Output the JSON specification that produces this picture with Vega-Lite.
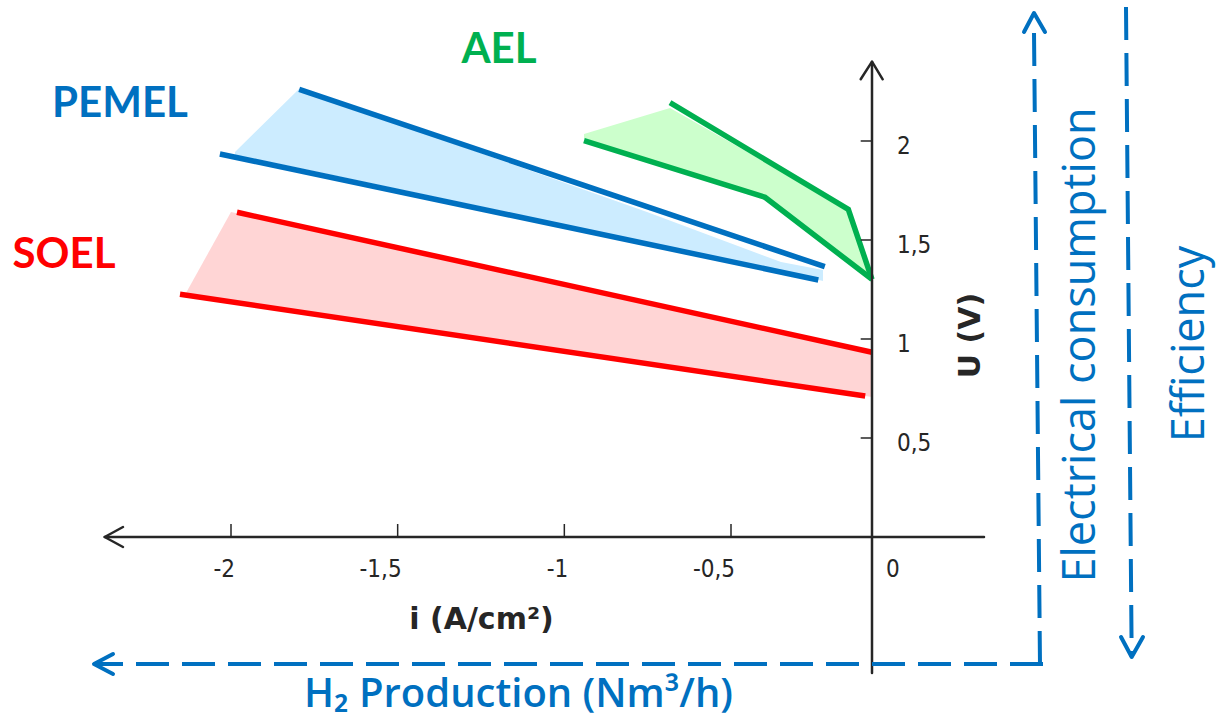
{
  "$schema": "https://vega.github.io/schema/vega-lite/v6.json",
  "width": 1217,
  "height": 719,
  "padding": 0,
  "autosize": {"type": "none"},
  "background": "white",
  "config": {"view": {"stroke": null}},
  "datasets": {
    "fills": [
      {"s": "PEMEL", "x": -1.988, "y": 1.9444, "y2": 1.9293},
      {"s": "PEMEL", "x": -1.796, "y": 2.2626, "y2": 1.8636},
      {"s": "PEMEL", "x": -0.752, "y": 1.6414, "y2": 1.4899},
      {"s": "PEMEL", "x": -0.3227, "y": 1.3889, "y2": 1.3434},
      {"s": "PEMEL", "x": -0.1738, "y": 1.3485, "y2": 1.2929},
      {"s": "AEL", "x": -0.941, "y": 2.0354, "y2": 2.0101},
      {"s": "AEL", "x": -0.683, "y": 2.1667, "y2": 1.8737},
      {"s": "AEL", "x": -0.3794, "y": 1.8939, "y2": 1.7222},
      {"s": "AEL", "x": -0.0851, "y": 1.6515, "y2": 1.399},
      {"s": "AEL", "x": -0.0035, "y": 1.3131, "y2": 1.303},
      {"s": "SOEL", "x": -2.135, "y": 1.2323, "y2": 1.2273},
      {"s": "SOEL", "x": -2.0, "y": 1.6414, "y2": 1.1889},
      {"s": "SOEL", "x": 0, "y": 0.9343, "y2": 0.7071}
    ],
    "lines": [
      {"s": "PEMEL", "g": "PEMEL-upper", "o": 1, "x": -1.7954, "y": 2.2611},
      {"s": "PEMEL", "g": "PEMEL-upper", "o": 2, "x": -0.1674, "y": 1.3652},
      {"s": "PEMEL", "g": "PEMEL-lower", "o": 1, "x": -2.0333, "y": 1.9343},
      {"s": "PEMEL", "g": "PEMEL-lower", "o": 2, "x": -0.1904, "y": 1.298},
      {"s": "AEL", "g": "AEL-upper", "o": 1, "x": -0.683, "y": 2.1934},
      {"s": "AEL", "g": "AEL-upper", "o": 2, "x": -0.084, "y": 1.6551},
      {"s": "AEL", "g": "AEL-upper", "o": 3, "x": 0, "y": 1.3015},
      {"s": "AEL", "g": "AEL-lower", "o": 1, "x": -0.941, "y": 2.0015},
      {"s": "AEL", "g": "AEL-lower", "o": 2, "x": -0.3794, "y": 1.7157},
      {"s": "AEL", "g": "AEL-lower", "o": 3, "x": 0, "y": 1.3015},
      {"s": "SOEL", "g": "SOEL-upper", "o": 1, "x": -1.982, "y": 1.6399},
      {"s": "SOEL", "g": "SOEL-upper", "o": 2, "x": 0, "y": 0.9328},
      {"s": "SOEL", "g": "SOEL-lower", "o": 1, "x": -2.153, "y": 1.2258},
      {"s": "SOEL", "g": "SOEL-lower", "o": 2, "x": -0.0241, "y": 0.7121}
    ],
    "axes": [
      {"g": "xaxis", "o": 1, "x": -2.379, "y": 0},
      {"g": "xaxis", "o": 2, "x": 0.3972, "y": 0},
      {"g": "xarrow", "o": 1, "x": -2.324, "y": 0.0505},
      {"g": "xarrow", "o": 2, "x": -2.379, "y": 0},
      {"g": "xarrow", "o": 3, "x": -2.324, "y": -0.0505},
      {"g": "yaxis", "o": 1, "x": 0, "y": -0.6869},
      {"g": "yaxis", "o": 2, "x": 0, "y": 2.4005},
      {"g": "yarrow", "o": 1, "x": -0.0401, "y": 2.3116},
      {"g": "yarrow", "o": 2, "x": 0, "y": 2.4005},
      {"g": "yarrow", "o": 3, "x": 0.0379, "y": 2.3116}
    ],
    "dashed": [
      {"g": "consumption", "o": 1, "x": 0.5745, "y": 2.5455},
      {"g": "consumption", "o": 2, "x": 0.5957, "y": -0.6414},
      {"g": "production", "o": 1, "x": 0.6064, "y": -0.6414},
      {"g": "production", "o": 2, "x": -2.411, "y": -0.6414},
      {"g": "efficiency", "o": 1, "x": 0.9007, "y": 2.6768},
      {"g": "efficiency", "o": 2, "x": 0.9209, "y": -0.6061}
    ],
    "heads": [
      {"g": "up", "o": 1, "x": 0.539, "y": 2.5505},
      {"g": "up", "o": 2, "x": 0.5745, "y": 2.6465},
      {"g": "up", "o": 3, "x": 0.6135, "y": 2.5505},
      {"g": "down", "o": 1, "x": 0.883, "y": -0.5051},
      {"g": "down", "o": 2, "x": 0.9209, "y": -0.6061},
      {"g": "down", "o": 3, "x": 0.961, "y": -0.5051},
      {"g": "left", "o": 1, "x": -2.354, "y": -0.5909},
      {"g": "left", "o": 2, "x": -2.411, "y": -0.6414},
      {"g": "left", "o": 3, "x": -2.354, "y": -0.6919}
    ],
    "xticks": [
      {"x": -2, "t": "-2"},
      {"x": -1.5, "t": "-1,5"},
      {"x": -1, "t": "-1"},
      {"x": -0.5, "t": "-0,5"}
    ],
    "yticks": [
      {"y": 0.5, "t": "0,5"},
      {"y": 1, "t": "1"},
      {"y": 1.5, "t": "1,5"},
      {"y": 2, "t": "2"}
    ],
    "zero": [{"x": 0, "t": "0"}],
    "names": [
      {"t": "PEMEL", "x": -2.333, "y": 2.1212},
      {"t": "AEL", "x": -1.196, "y": 2.3939},
      {"t": "SOEL", "x": -2.501, "y": 1.3586}
    ],
    "ilabel": [{"t": "i (A/cm²)", "x": -1.2485, "y": -0.4646}],
    "ulabel": [{"t": "U (V)", "x": 0.383, "y": 1.0177}],
    "h2label": [{"t": "H₂ Production (Nm³/h)", "x": -1.1375, "y": -0.8586}],
    "sidelabels": [
      {"t": "Electrical consumption", "x": 0.7908, "y": 0.9697},
      {"t": "Efficiency", "x": 1.1773, "y": 0.9747}
    ]
  },
  "layer": [
    {
      "data": {"name": "fills"},
      "mark": {"type": "area", "orient": "vertical", "opacity": 1},
      "encoding": {
        "x": {"field": "x", "type": "quantitative", "axis": null, "scale": {"domain": [-2.693, -0.5, 0, 1.2234], "range": [0, 731, 872, 1217], "nice": false, "zero": false}},
        "y": {"field": "y", "type": "quantitative", "axis": null, "scale": {"domain": [-0.9192, 2.7121], "nice": false, "zero": false}},
        "y2": {"field": "y2"},
        "fill": {"field": "s", "type": "nominal", "legend": null,
                 "scale": {"domain": ["PEMEL", "AEL", "SOEL"], "range": ["#CCECFF", "#CCFFCC", "#FFD5D5"]}}
      }
    },
    {
      "data": {"name": "lines"},
      "mark": {"type": "line", "strokeWidth": 5.5, "strokeCap": "butt", "strokeJoin": "miter"},
      "encoding": {
        "x": {"field": "x", "type": "quantitative", "axis": null, "scale": {"domain": [-2.693, -0.5, 0, 1.2234], "range": [0, 731, 872, 1217], "nice": false, "zero": false}},
        "y": {"field": "y", "type": "quantitative", "axis": null, "scale": {"domain": [-0.9192, 2.7121], "nice": false, "zero": false}},
        "order": {"field": "o", "type": "quantitative"},
        "detail": {"field": "g", "type": "nominal"},
        "stroke": {"field": "s", "type": "nominal", "legend": null,
                   "scale": {"domain": ["PEMEL", "AEL", "SOEL"], "range": ["#0070C0", "#00B050", "#FF0000"]}}
      }
    },
    {
      "data": {"name": "axes"},
      "mark": {"type": "line", "strokeWidth": 2.5, "color": "#262626", "strokeCap": "round", "strokeJoin": "round"},
      "encoding": {
        "x": {"field": "x", "type": "quantitative", "axis": null, "scale": {"domain": [-2.693, -0.5, 0, 1.2234], "range": [0, 731, 872, 1217], "nice": false, "zero": false}},
        "y": {"field": "y", "type": "quantitative", "axis": null, "scale": {"domain": [-0.9192, 2.7121], "nice": false, "zero": false}},
        "order": {"field": "o", "type": "quantitative"},
        "detail": {"field": "g", "type": "nominal"}
      }
    },
    {
      "data": {"name": "xticks"},
      "mark": {"type": "rule", "strokeWidth": 1.5, "color": "#262626"},
      "encoding": {
        "x": {"field": "x", "type": "quantitative", "axis": null, "scale": {"domain": [-2.693, -0.5, 0, 1.2234], "range": [0, 731, 872, 1217], "nice": false, "zero": false}},
        "y": {"datum": 0, "type": "quantitative", "axis": null, "scale": {"domain": [-0.9192, 2.7121], "nice": false, "zero": false}},
        "y2": {"datum": 0.0657}
      }
    },
    {
      "data": {"name": "xticks"},
      "mark": {"type": "text", "font": "DejaVu Sans Condensed, DejaVu Sans", "fontSize": 24, "color": "#262626", "align": "right", "baseline": "alphabetic", "dx": 4},
      "encoding": {
        "x": {"field": "x", "type": "quantitative", "axis": null, "scale": {"domain": [-2.693, -0.5, 0, 1.2234], "range": [0, 731, 872, 1217], "nice": false, "zero": false}},
        "y": {"datum": -0.202, "type": "quantitative", "axis": null, "scale": {"domain": [-0.9192, 2.7121], "nice": false, "zero": false}},
        "text": {"field": "t"}
      }
    },
    {
      "data": {"name": "zero"},
      "mark": {"type": "text", "font": "DejaVu Sans Condensed, DejaVu Sans", "fontSize": 24, "color": "#262626", "align": "left", "baseline": "alphabetic", "dx": 14},
      "encoding": {
        "x": {"field": "x", "type": "quantitative", "axis": null, "scale": {"domain": [-2.693, -0.5, 0, 1.2234], "range": [0, 731, 872, 1217], "nice": false, "zero": false}},
        "y": {"datum": -0.202, "type": "quantitative", "axis": null, "scale": {"domain": [-0.9192, 2.7121], "nice": false, "zero": false}},
        "text": {"field": "t"}
      }
    },
    {
      "data": {"name": "yticks"},
      "mark": {"type": "rule", "strokeWidth": 1.5, "color": "#262626"},
      "encoding": {
        "x": {"datum": -0.0401, "type": "quantitative", "axis": null, "scale": {"domain": [-2.693, -0.5, 0, 1.2234], "range": [0, 731, 872, 1217], "nice": false, "zero": false}},
        "x2": {"datum": 0},
        "y": {"field": "y", "type": "quantitative", "axis": null, "scale": {"domain": [-0.9192, 2.7121], "nice": false, "zero": false}}
      }
    },
    {
      "data": {"name": "yticks"},
      "mark": {"type": "text", "font": "DejaVu Sans Condensed, DejaVu Sans", "fontSize": 24, "color": "#262626", "align": "left", "baseline": "alphabetic", "dx": 25, "dy": 13},
      "encoding": {
        "x": {"datum": 0, "type": "quantitative", "axis": null, "scale": {"domain": [-2.693, -0.5, 0, 1.2234], "range": [0, 731, 872, 1217], "nice": false, "zero": false}},
        "y": {"field": "y", "type": "quantitative", "axis": null, "scale": {"domain": [-0.9192, 2.7121], "nice": false, "zero": false}},
        "text": {"field": "t"}
      }
    },
    {
      "data": {"name": "dashed"},
      "mark": {"type": "line", "strokeWidth": 4, "color": "#0070C0", "strokeDash": [33, 13], "strokeCap": "butt"},
      "encoding": {
        "x": {"field": "x", "type": "quantitative", "axis": null, "scale": {"domain": [-2.693, -0.5, 0, 1.2234], "range": [0, 731, 872, 1217], "nice": false, "zero": false}},
        "y": {"field": "y", "type": "quantitative", "axis": null, "scale": {"domain": [-0.9192, 2.7121], "nice": false, "zero": false}},
        "order": {"field": "o", "type": "quantitative"},
        "detail": {"field": "g", "type": "nominal"}
      }
    },
    {
      "data": {"name": "heads"},
      "mark": {"type": "line", "strokeWidth": 4, "color": "#0070C0", "strokeCap": "round", "strokeJoin": "round"},
      "encoding": {
        "x": {"field": "x", "type": "quantitative", "axis": null, "scale": {"domain": [-2.693, -0.5, 0, 1.2234], "range": [0, 731, 872, 1217], "nice": false, "zero": false}},
        "y": {"field": "y", "type": "quantitative", "axis": null, "scale": {"domain": [-0.9192, 2.7121], "nice": false, "zero": false}},
        "order": {"field": "o", "type": "quantitative"},
        "detail": {"field": "g", "type": "nominal"}
      }
    },
    {
      "data": {"name": "names"},
      "mark": {"type": "text", "font": "Lato", "fontWeight": "bold", "fontSize": 42, "align": "center", "baseline": "alphabetic"},
      "encoding": {
        "x": {"field": "x", "type": "quantitative", "axis": null, "scale": {"domain": [-2.693, -0.5, 0, 1.2234], "range": [0, 731, 872, 1217], "nice": false, "zero": false}},
        "y": {"field": "y", "type": "quantitative", "axis": null, "scale": {"domain": [-0.9192, 2.7121], "nice": false, "zero": false}},
        "text": {"field": "t"},
        "color": {"field": "t", "type": "nominal", "legend": null,
                  "scale": {"domain": ["PEMEL", "AEL", "SOEL"], "range": ["#0070C0", "#00B050", "#FF0000"]}}
      }
    },
    {
      "data": {"name": "ilabel"},
      "mark": {"type": "text", "font": "DejaVu Sans", "fontWeight": "bold", "fontSize": 30, "color": "#262626", "align": "center", "baseline": "alphabetic"},
      "encoding": {
        "x": {"field": "x", "type": "quantitative", "axis": null, "scale": {"domain": [-2.693, -0.5, 0, 1.2234], "range": [0, 731, 872, 1217], "nice": false, "zero": false}},
        "y": {"field": "y", "type": "quantitative", "axis": null, "scale": {"domain": [-0.9192, 2.7121], "nice": false, "zero": false}},
        "text": {"field": "t"}
      }
    },
    {
      "data": {"name": "ulabel"},
      "mark": {"type": "text", "font": "DejaVu Sans", "fontWeight": "bold", "fontSize": 30, "color": "#262626", "align": "center", "baseline": "alphabetic", "angle": 270},
      "encoding": {
        "x": {"field": "x", "type": "quantitative", "axis": null, "scale": {"domain": [-2.693, -0.5, 0, 1.2234], "range": [0, 731, 872, 1217], "nice": false, "zero": false}},
        "y": {"field": "y", "type": "quantitative", "axis": null, "scale": {"domain": [-0.9192, 2.7121], "nice": false, "zero": false}},
        "text": {"field": "t"}
      }
    },
    {
      "data": {"name": "h2label"},
      "mark": {"type": "text", "font": "Open Sans", "fontWeight": 600, "fontSize": 40, "color": "#0070C0", "align": "center", "baseline": "alphabetic"},
      "encoding": {
        "x": {"field": "x", "type": "quantitative", "axis": null, "scale": {"domain": [-2.693, -0.5, 0, 1.2234], "range": [0, 731, 872, 1217], "nice": false, "zero": false}},
        "y": {"field": "y", "type": "quantitative", "axis": null, "scale": {"domain": [-0.9192, 2.7121], "nice": false, "zero": false}},
        "text": {"field": "t"}
      }
    },
    {
      "data": {"name": "sidelabels"},
      "mark": {"type": "text", "font": "Open Sans", "fontWeight": "normal", "fontSize": 45, "color": "#0070C0", "align": "center", "baseline": "alphabetic", "angle": 270},
      "encoding": {
        "x": {"field": "x", "type": "quantitative", "axis": null, "scale": {"domain": [-2.693, -0.5, 0, 1.2234], "range": [0, 731, 872, 1217], "nice": false, "zero": false}},
        "y": {"field": "y", "type": "quantitative", "axis": null, "scale": {"domain": [-0.9192, 2.7121], "nice": false, "zero": false}},
        "text": {"field": "t"}
      }
    }
  ]
}
